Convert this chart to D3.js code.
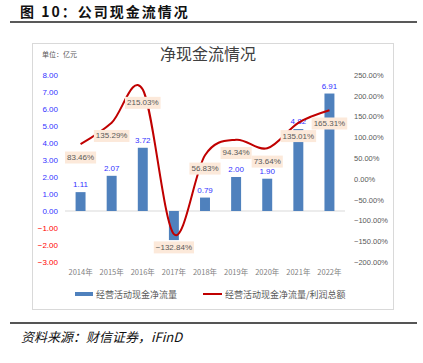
<!DOCTYPE html>
<html>
<head>
<meta charset="utf-8">
<script src="https://cdn.jsdelivr.net/npm/d3@7"></script>
<style>
  body { margin: 0; background: #fff; }
  svg { display: block; font-family: "Liberation Sans", "Noto Sans CJK SC", sans-serif; }
</style>
</head>
<body>
<svg id="chart" width="423" height="363"></svg>
<script>
const years = ['2014年', '2015年', '2016年', '2017年', '2018年', '2019年', '2020年', '2021年', '2022年']
const cashFlow = [1.11, 2.07, 3.72, -1.71, 0.79, 2.00, 1.90, 4.82, 6.91]
const ratio = [83.46, 135.29, 215.03, -132.84, 56.83, 94.34, 73.64, 135.01, 165.31]
const leftTicks = [-3, -2, -1, 0, 1, 2, 3, 4, 5, 6, 7, 8]
const rightTicks = [-200, -150, -100, -50, 0, 50, 100, 150, 200, 250]

const barColor = '#4f81bd'
const lineColor = '#c00000'
const gray = '#595959'

const svg = d3.select('#chart')

// header
svg.append('text')
  .attr('x', 20).attr('y', 17)
  .style('font-family', '"Noto Sans CJK SC"')
  .style('font-weight', 700)
  .style('font-size', '14px')
  .style('letter-spacing', '2px')
  .attr('fill', '#111')
  .text('图 10：公司现金流情况')

svg.append('line')
  .attr('x1', 10).attr('x2', 417).attr('y1', 22).attr('y2', 22)
  .attr('stroke', '#222').attr('stroke-width', 1.5)

// chart frame
svg.append('rect')
  .attr('x', 32.5).attr('y', 43.5).attr('width', 361).attr('height', 266)
  .attr('fill', '#fff').attr('stroke', '#d9d9d9')

svg.append('text')
  .attr('x', 208).attr('y', 60)
  .attr('text-anchor', 'middle')
  .style('font-family', '"Noto Sans CJK SC"')
  .style('font-size', '16px')
  .attr('fill', '#404040')
  .text('净现金流情况')

svg.append('text')
  .attr('x', 42).attr('y', 57)
  .style('font-family', '"Noto Sans CJK SC"')
  .style('font-size', '7px')
  .attr('fill', gray)
  .text('单位：亿元')

// scales
const xScale = d3.scaleBand()
  .domain(years)
  .range([65, 345])
  .paddingInner(0.68)
  .paddingOuter(0.34)

const yLeft = d3.scaleLinear().domain([-3, 8]).range([262, 75])
const yRight = d3.scaleLinear().domain([-200, 250]).range([262, 75])
const cx = d => xScale(d) + xScale.bandwidth() / 2

// left axis
const leftAxis = svg.append('g')
  .attr('transform', 'translate(58,0)')
  .call(d3.axisLeft(yLeft).tickValues(leftTicks).tickSize(0).tickPadding(0).tickFormat(d3.format('.2f')))
leftAxis.select('.domain').remove()
leftAxis.selectAll('text')
  .style('font-size', '8px')
  .attr('fill', d => d < 0 ? '#ff0000' : '#3333ff')

// right axis
const rightAxis = svg.append('g')
  .attr('transform', 'translate(354,0)')
  .call(d3.axisRight(yRight).tickValues(rightTicks).tickSize(0).tickPadding(0).tickFormat(d => d3.format('.2f')(d) + '%'))
rightAxis.select('.domain').remove()
rightAxis.selectAll('text')
  .style('font-size', '7.5px')
  .attr('fill', gray)

// x axis
const xAxis = svg.append('g')
  .attr('transform', 'translate(0,262)')
  .call(d3.axisBottom(xScale).tickSize(0).tickPadding(8))
xAxis.select('.domain').remove()
xAxis.selectAll('text')
  .style('font-family', '"Noto Sans CJK SC"')
  .style('font-size', '7.5px')
  .attr('fill', '#7f7f7f')

// zero line
svg.append('line')
  .attr('x1', 65).attr('x2', 345)
  .attr('y1', yLeft(0)).attr('y2', yLeft(0))
  .attr('stroke', '#d9d9d9')

// bars
svg.selectAll('.bar')
  .data(cashFlow)
  .enter()
  .append('rect')
  .attr('class', 'bar')
  .attr('x', (d, i) => xScale(years[i]))
  .attr('width', xScale.bandwidth())
  .attr('y', d => yLeft(Math.max(d, 0)))
  .attr('height', d => Math.abs(yLeft(d) - yLeft(0)))
  .attr('fill', barColor)

// bar value labels
svg.selectAll('.barLabel')
  .data(cashFlow)
  .enter()
  .append('text')
  .attr('class', 'barLabel')
  .attr('x', (d, i) => cx(years[i]))
  .attr('y', d => d >= 0 ? yLeft(d) - 5 : yLeft(d) + 11)
  .attr('text-anchor', 'middle')
  .style('font-size', '8px')
  .attr('fill', d => d < 0 ? '#ff0000' : '#3333ff')
  .text(d => d3.format('.2f')(d))

// line
const line = d3.line()
  .x((d, i) => cx(years[i]))
  .y(d => yRight(d))
  .curve(d3.curveCardinal.tension(0))

svg.append('path')
  .datum(ratio)
  .attr('d', line)
  .attr('fill', 'none')
  .attr('stroke', lineColor)
  .attr('stroke-width', 2)

// line labels with boxes
const lbl = svg.selectAll('.lineLabel')
  .data(ratio)
  .enter()
  .append('g')
  .attr('class', 'lineLabel')
  .attr('transform', (d, i) => `translate(${cx(years[i])},${yRight(d) + 13})`)

lbl.append('text')
  .attr('text-anchor', 'middle')
  .attr('dy', '0.35em')
  .style('font-size', '8px')
  .attr('fill', gray)
  .text(d => d3.format('.2f')(d) + '%')

lbl.each(function () {
  const g = d3.select(this)
  const bb = g.select('text').node().getBBox()
  g.insert('rect', 'text')
    .attr('x', bb.x - 2).attr('y', bb.y - 1.5)
    .attr('width', bb.width + 4).attr('height', bb.height + 3)
    .attr('fill', '#fce9da')
})

// legend
svg.append('rect').attr('x', 75).attr('y', 292).attr('width', 18).attr('height', 4).attr('fill', barColor)
svg.append('text').attr('x', 96).attr('y', 297.5)
  .style('font-family', '"Noto Sans CJK SC"').style('font-size', '9px').attr('fill', gray)
  .text('经营活动现金净流量')
svg.append('line').attr('x1', 203).attr('x2', 222).attr('y1', 294).attr('y2', 294)
  .attr('stroke', lineColor).attr('stroke-width', 2)
svg.append('text').attr('x', 225).attr('y', 297.5)
  .style('font-family', '"Noto Sans CJK SC"').style('font-size', '9px').attr('fill', gray)
  .text('经营活动现金净流量/利润总额')

// footer
svg.append('line')
  .attr('x1', 10).attr('x2', 417).attr('y1', 323).attr('y2', 323)
  .attr('stroke', '#555').attr('stroke-width', 2)

svg.append('text')
  .attr('x', 21).attr('y', 342)
  .style('font-family', '"Noto Sans CJK SC"')
  .style('font-style', 'italic')
  .style('font-size', '13px')
  .attr('fill', '#111')
  .text('资料来源：财信证券，iFinD')
</script>
</body>
</html>
